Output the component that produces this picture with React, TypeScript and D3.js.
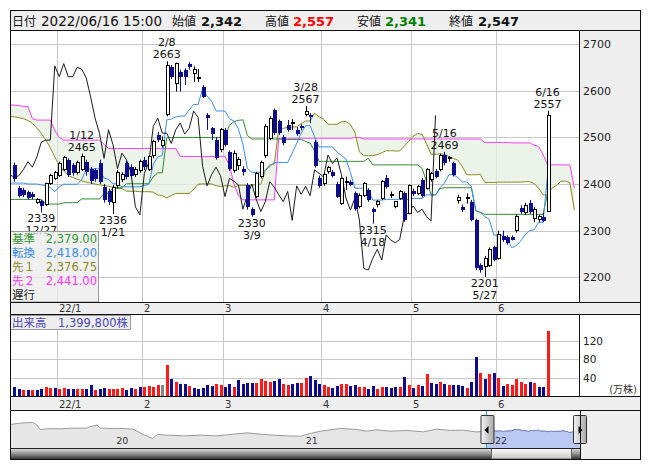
import React from "react";
import * as d3 from "d3";

// ---- calendar: trading days shown on the daily chart ----
const tradingMonths: [number, number, number[]][] = [
  [2021, 12, [17, 20, 21, 22, 23, 24, 27, 28, 29, 30]],
  [2022, 1, [4, 5, 6, 7, 11, 12, 13, 14, 17, 18, 19, 20, 21, 24, 25, 26, 27, 28, 31]],
  [2022, 2, [1, 2, 3, 4, 7, 8, 9, 10, 14, 15, 16, 17, 18, 21, 22, 24, 25, 28]],
  [2022, 3, [1, 2, 3, 4, 7, 8, 9, 10, 11, 14, 15, 16, 17, 18, 22, 23, 24, 25, 28, 29, 30, 31]],
  [2022, 4, [1, 4, 5, 6, 7, 8, 11, 12, 13, 14, 15, 18, 19, 20, 21, 22, 25, 26, 27, 28]],
  [2022, 5, [2, 6, 9, 10, 11, 12, 13, 16, 17, 18, 19, 20, 23, 24, 25, 26, 27, 30, 31]],
  [2022, 6, [1, 2, 3, 6, 7, 8, 9, 10, 13, 14, 15, 16]],
];

// ---- daily OHLC ----
const opens = [
  2440, 2392, 2387, 2382, 2378, 2361, 2363, 2355, 2401, 2412,
  2418, 2431, 2451, 2440, 2424, 2432, 2448, 2432, 2430, 2446, 2394, 2384, 2360, 2396, 2410, 2444, 2437, 2420, 2428,
  2452, 2432, 2460, 2505, 2482, 2548, 2650, 2616, 2641, 2644, 2657, 2637, 2625, 2607, 2548, 2519, 2494, 2473,
  2516, 2468, 2428, 2440, 2433, 2398, 2346, 2374, 2416, 2460, 2498, 2559, 2534, 2501, 2526, 2530, 2516, 2524, 2548, 2548, 2491, 2412,
  2400, 2426, 2425, 2401, 2359, 2405, 2405, 2380, 2351, 2376, 2387, 2346, 2355, 2369, 2412, 2376, 2351, 2369, 2380, 2337,
  2386, 2380, 2409, 2391, 2409, 2428, 2430, 2462, 2455, 2444, 2364, 2351, 2368, 2362, 2323, 2226, 2223, 2226, 2264,
  2241, 2289, 2286, 2286, 2301, 2348, 2339, 2360, 2326, 2323, 2330, 2342,
];
const highs = [
  2446, 2396, 2392, 2386, 2383, 2370, 2366, 2403, 2422, 2428,
  2448, 2460, 2455, 2445, 2450, 2465, 2452, 2436, 2434, 2452, 2400, 2390, 2398, 2430, 2425, 2450, 2442, 2436, 2452,
  2458, 2462, 2495, 2512, 2502, 2663, 2655, 2660, 2645, 2648, 2661, 2652, 2646, 2612, 2552, 2522, 2500, 2520,
  2520, 2472, 2472, 2458, 2438, 2402, 2350, 2426, 2450, 2528, 2545, 2562, 2538, 2505, 2537, 2539, 2522, 2528, 2567, 2552, 2495, 2418,
  2424, 2439, 2430, 2405, 2414, 2416, 2409, 2384, 2380, 2404, 2391, 2350, 2366, 2408, 2419, 2384, 2364, 2387, 2384, 2399,
  2390, 2398, 2413, 2434, 2426, 2432, 2465, 2469, 2460, 2448, 2377, 2356, 2380, 2366, 2326, 2230, 2246, 2264, 2268,
  2300, 2300, 2290, 2290, 2335, 2354, 2360, 2366, 2350, 2334, 2338, 2557,
];
const lows = [
  2405, 2371, 2372, 2366, 2367, 2358, 2339, 2353, 2398, 2409,
  2415, 2428, 2415, 2418, 2420, 2428, 2418, 2400, 2405, 2400, 2360, 2355, 2336, 2390, 2404, 2410, 2412, 2415, 2424,
  2430, 2428, 2455, 2490, 2478, 2545, 2625, 2598, 2598, 2612, 2645, 2619, 2619, 2584, 2516, 2494, 2452, 2468,
  2480, 2428, 2424, 2430, 2418, 2345, 2330, 2370, 2412, 2456, 2494, 2505, 2505, 2483, 2512, 2516, 2503, 2515, 2545, 2530, 2435, 2392,
  2396, 2422, 2414, 2370, 2355, 2387, 2395, 2343, 2348, 2372, 2362, 2315, 2350, 2366, 2390, 2370, 2348, 2366, 2319, 2335,
  2374, 2376, 2371, 2388, 2405, 2412, 2427, 2440, 2448, 2416, 2358, 2340, 2358, 2320, 2216, 2210, 2201, 2222, 2234,
  2238, 2276, 2270, 2279, 2296, 2336, 2334, 2336, 2318, 2318, 2318, 2341,
];
const closes = [
  2410, 2375, 2376, 2370, 2372, 2367, 2352, 2400, 2419, 2424,
  2444, 2456, 2420, 2424, 2445, 2458, 2426, 2406, 2410, 2404, 2365, 2362, 2392, 2425, 2420, 2414, 2418, 2431, 2448,
  2436, 2458, 2490, 2494, 2494, 2653, 2630, 2658, 2630, 2630, 2650, 2646, 2628, 2587, 2541, 2508, 2455, 2516,
  2484, 2433, 2466, 2452, 2425, 2351, 2334, 2423, 2446, 2524, 2541, 2509, 2509, 2487, 2516, 2531, 2507, 2519, 2556, 2543, 2438, 2396,
  2420, 2436, 2418, 2373, 2412, 2406, 2398, 2346, 2376, 2400, 2366, 2341, 2362, 2405, 2393, 2377, 2362, 2384, 2322, 2396,
  2378, 2395, 2375, 2430, 2423, 2415, 2462, 2444, 2456, 2420, 2370, 2344, 2370, 2323, 2219, 2216, 2241, 2260, 2237,
  2291, 2280, 2274, 2281, 2330, 2339, 2353, 2339, 2346, 2330, 2321, 2547,
];

// ---- daily volume (shares) and bar side: u = up, d = down, n = unchanged ----
const volumes = [
  206000, 170000, 150000, 130000, 150000, 150000, 170000, 200000, 177000, 180000,
  170000, 180000, 160000, 160000, 156000, 160000, 160000, 248000, 150000, 160000, 180000, 160000, 160000, 160000, 180000, 150000, 180000, 170000, 205000,
  205000, 230000, 205000, 248000, 248000, 679000, 375000, 318000, 276000, 276000, 234000, 184000, 170000, 184000, 255000, 234000, 276000, 255000,
  205000, 276000, 198000, 360000, 276000, 297000, 297000, 283000, 382000, 326000, 318000, 333000, 375000, 276000, 255000, 276000, 297000, 297000, 403000, 446000, 361000, 276000,
  248000, 198000, 191000, 234000, 276000, 276000, 234000, 248000, 205000, 205000, 170000, 234000, 170000, 205000, 205000, 191000, 205000, 205000, 417000, 248000,
  191000, 248000, 234000, 488000, 297000, 276000, 318000, 276000, 255000, 248000, 248000, 234000, 191000, 318000, 849000, 509000, 382000, 488000, 509000,
  403000, 234000, 276000, 255000, 382000, 318000, 276000, 318000, 297000, 212000, 212000, 1399800,
];
const volumeSide =
  "ddududduud" + "uudduuddud" + "duuuuddudu" + "uuunududdu" + "ddddduuddu" + "dddduuuudd" +
  "uudduudddu" + "udduudduud" + "duudddudud" + "ududdududd" + "duddududud" + "uuuuududdu";

// ---- Ichimoku values before enough history exists inside this window ----
const tenkanLead = [2402, 2402, 2402, 2400, 2400, 2400, 2398, 2396];
const kijunLead = [
  2367, 2367, 2367, 2367, 2367, 2367, 2367, 2357, 2357, 2357, 2357, 2360, 2360,
  2360, 2360, 2368, 2368, 2368, 2368, 2368, 2380, 2380, 2392, 2392, 2392,
];
const spanALead = [
  2544, 2542, 2540, 2536, 2530, 2520, 2508, 2494, 2478, 2458, 2440, 2428, 2418,
  2414, 2410, 2407, 2404, 2402, 2400, 2398, 2397, 2395, 2393, 2391, 2390,
];
const spanBLead = [
  2569, 2568, 2566, 2566, 2540, 2537, 2537, 2537, 2537, 2515, 2500, 2494, 2494, 2494, 2494, 2494, 2494, 2494, 2494, 2494,
  2485, 2476, 2476, 2476, 2476, 2476, 2476, 2476, 2476, 2476, 2476, 2476, 2476, 2476, 2476, 2476, 2476,
  2459, 2459, 2459, 2459, 2459, 2459, 2459, 2459, 2459, 2459, 2459, 2440, 2400, 2375,
  2366, 2366, 2366, 2366, 2366, 2366, 2366, 2366,
  2498, 2498, 2498, 2498, 2498, 2498, 2498, 2498, 2498, 2498, 2498, 2498, 2498, 2498, 2498, 2498, 2498,
];
// leading spans projected past the last session
const spanAAhead = [2391, 2397, 2406, 2406, 2403, 2344];
const spanBAhead = [2441, 2441, 2441, 2441, 2441, 2391];

const priceTicks = [2200, 2300, 2400, 2500, 2600, 2700];
const volumeTicks = [40, 80, 120];

const markedHighs = ["2022-01-12", "2022-02-08", "2022-03-28", "2022-05-16", "2022-06-16"];
const markedLows = ["2021-12-27", "2022-01-21", "2022-03-09", "2022-04-18", "2022-05-27"];

// ---- long-range history for the navigator ----
const navDates = [
  "2019-06-14", "2019-07-01", "2019-07-20", "2019-07-26", "2019-08-03", "2019-08-09", "2019-08-28",
  "2019-09-16", "2019-09-30", "2019-10-15", "2019-11-07", "2019-11-13", "2019-11-27", "2019-12-03",
  "2019-12-18", "2020-01-01", "2020-01-20", "2020-02-04", "2020-02-12", "2020-02-24", "2020-03-13",
  "2020-03-23", "2020-04-11", "2020-05-12", "2020-06-14", "2020-07-16", "2020-08-16", "2020-09-12",
  "2020-10-07", "2020-11-01", "2020-11-28", "2020-12-24", "2021-01-12", "2021-02-01", "2021-03-11",
  "2021-04-11", "2021-04-30", "2021-05-19", "2021-06-16", "2021-07-16", "2021-08-18", "2021-09-12",
  "2021-10-09", "2021-11-03", "2021-11-28", "2021-12-08",
];
const navValues = [
  3384, 3571, 3643, 3672, 3283, 2662, 2778,
  2750, 2807, 2850, 2850, 3038, 3283, 2879,
  2807, 2807, 2778, 2706, 2417, 1941, 1364,
  1941, 1840, 1739, 1840, 1739, 1984, 2172,
  1984, 1840, 1739, 1696, 2085, 2417, 2807,
  2662, 2417, 2605, 2417, 2518, 2316, 2706,
  2518, 2561, 2300, 2380,
];
const navYears = [2020, 2021, 2022];

const FONT = "'DejaVu Sans', 'Noto Sans CJK JP', sans-serif";
const NAVY = "#0c0c8c";
const RED = "#ff1a1a";
const C_KIJUN = "#2e8b2e";
const C_TENKAN = "#3a8ee6";
const C_SPANA = "#8a8a1e";
const C_SPANB = "#ff3cff";
const GRID = "#c8c8c8";

export default function App() {
  const days = tradingMonths.flatMap(([yy, mm, ds]) =>
    ds.map((d) => ({ y: yy, m: mm, d, date: new Date(yy, mm - 1, d) }))
  );
  const N = days.length;
  const iso = d3.timeFormat("%Y-%m-%d");
  const idxOf = (s: string) => days.findIndex((dd) => iso(dd.date) === s);

  // layout
  const PL = 11, PR = 579, PT = 31, PB = 302;
  const VT = 314.5, VB = 396.5;
  const NT = 410.5, NB = 448;

  const x = d3.scaleLinear().domain([0, N - 1]).range([14.46, 547.5]);
  const step = x(1) - x(0);
  const y = d3.scaleLinear().domain([2200, 2700]).range([277.33, 44]);
  const vy = d3.scaleLinear().domain([0, 120]).range([VB, 340.5]);

  // Ichimoku
  const mid = (i: number, n: number) => {
    let hi = -Infinity, lo = Infinity;
    for (let k = i - n + 1; k <= i; k++) {
      hi = Math.max(hi, highs[k]);
      lo = Math.min(lo, lows[k]);
    }
    return (hi + lo) / 2;
  };
  const SHIFT = 25;
  const tenkan = d3.range(N).map((i) => (i < 8 ? tenkanLead[i] : mid(i, 9)));
  const kijun = d3.range(N).map((i) => (i < 25 ? kijunLead[i] : mid(i, 26)));
  const M = N + spanAAhead.length;
  const spanA = d3.range(M).map((j) =>
    j < 25 ? spanALead[j] : j < N ? (tenkan[j - SHIFT] + kijun[j - SHIFT]) / 2 : spanAAhead[j - N]
  );
  const spanB = d3.range(M).map((j) =>
    j < 76 ? spanBLead[j] : j < N ? mid(j - SHIFT, 52) : spanBAhead[j - N]
  );
  const chikou = d3.range(-1, N - SHIFT).map((i) => [x(i), y(closes[i + SHIFT])] as [number, number]);

  const pts = (arr: number[]) =>
    [[PL, y(arr[0])] as [number, number]].concat(arr.map((v, i) => [x(i), y(v)] as [number, number]));
  const line = d3.line<[number, number]>().x((d) => d[0]).y((d) => d[1]);
  const cloud = d3
    .area<number>()
    .x((i) => (i < 0 ? PL : x(i)))
    .y0((i) => y(spanA[Math.max(i, 0)]))
    .y1((i) => y(spanB[Math.max(i, 0)]));

  // month boundaries
  const monthStarts = days
    .map((dd, i) => ({ ...dd, i }))
    .filter((dd, i) => i > 0 && dd.m !== days[i - 1].m);
  const monthX = (i: number) => Math.round(x(i) - step / 2) + 0.5;
  const monthLabel = (dd: { y: number; m: number }) => (dd.m === 1 ? `${dd.y % 100}/1` : `${dd.m}`);

  const fmt = d3.format(",");
  const fmt2 = d3.format(",.2f");
  const last = N - 1;

  // navigator
  const parse = d3.timeParse("%Y-%m-%d");
  const navSeries = navDates
    .map((s, k) => ({ date: parse(s) as Date, v: navValues[k] }))
    .concat(days.map((dd, i) => ({ date: dd.date, v: closes[i] })));
  const navX = d3.scaleTime().domain([parse("2019-06-14") as Date, days[last].date]).range([PL, 580]);
  const navY = d3.scaleLinear().domain([0, 5450]).range([NB, 410]);
  const navArea = d3
    .area<{ date: Date; v: number }>()
    .x((d) => navX(d.date))
    .y0(NB)
    .y1((d) => navY(d.v));
  const navLine = d3
    .line<{ date: Date; v: number }>()
    .x((d) => navX(d.date))
    .y((d) => navY(d.v));
  const selL = Math.round(navX(days[0].date)) + 0.5;
  const selR = Math.round(navX(days[last].date)) + 0.5;

  const legendRows = [
    { k: "基準", v: fmt2(kijun[last]), c: "#339933" },
    { k: "転換", v: fmt2(tenkan[last]), c: C_TENKAN },
    { k: "先１", v: fmt2(spanA[last]), c: C_SPANA },
    { k: "先２", v: fmt2(spanB[last]), c: "#ff33ff" },
    { k: "遅行", v: "", c: "#222" },
  ];

  const dateLabel = (i: number) => `${days[i].m}/${days[i].d}`;

  return (
    <svg
      width={653}
      height={470}
      style={{ position: "fixed", left: 0, top: 0, display: "block", background: "#fff" }}
      fontFamily={FONT}
    >
      <defs>
        <clipPath id="plotClip">
          <rect x={PL} y={PT} width={PR - PL} height={PB - PT} />
        </clipPath>
        <clipPath id="volClip">
          <rect x={PL} y={VT} width={PR - PL} height={VB - VT} />
        </clipPath>
        <clipPath id="navSel">
          <rect x={selL} y={NT} width={selR - selL} height={NB - NT} />
        </clipPath>
        <linearGradient id="track" x1="0" y1="0" x2="0" y2="1">
          <stop offset="0" stopColor="#e2e2e2" />
          <stop offset="0.45" stopColor="#9c9c9c" />
          <stop offset="1" stopColor="#2c2c2c" />
        </linearGradient>
        <linearGradient id="thumb" x1="0" y1="0" x2="0" y2="1">
          <stop offset="0" stopColor="#ffffff" />
          <stop offset="1" stopColor="#c4c4c4" />
        </linearGradient>
        <linearGradient id="handle" x1="0" y1="0" x2="1" y2="0">
          <stop offset="0" stopColor="#f4f4f4" />
          <stop offset="1" stopColor="#a8a8a8" />
        </linearGradient>
      </defs>

      {/* header */}
      <rect x={10.5} y={10.5} width={630} height={20} fill="#eeeeee" stroke="#333" />
      <text y={25.5} fontSize={13.5} fill="#111">
        <tspan x={12} fontSize={12}>日付</tspan>
        <tspan x={41}>{d3.timeFormat("%Y/%m/%d")(days[last].date)} 15:00</tspan>
        <tspan x={172} fontSize={12}>始値</tspan>
        <tspan x={201} fontWeight="bold" fontSize={13}>{fmt(opens[last])}</tspan>
        <tspan x={265} fontSize={12}>高値</tspan>
        <tspan x={293} fontWeight="bold" fontSize={13} fill="#ff0000">{fmt(highs[last])}</tspan>
        <tspan x={357} fontSize={12}>安値</tspan>
        <tspan x={385} fontWeight="bold" fontSize={13} fill="#008000">{fmt(lows[last])}</tspan>
        <tspan x={449} fontSize={12}>終値</tspan>
        <tspan x={478} fontWeight="bold" fontSize={13}>{fmt(closes[last])}</tspan>
      </text>

      {/* price panel */}
      <rect x={PL} y={PT} width={PR - PL} height={PB - PT} fill="#fff" />
      <rect x={PR} y={30.5} width={640.5 - PR} height={PB - 30.5} fill="#eeeeee" />
      {priceTicks.map((t) => (
        <line key={t} x1={PL} x2={PR} y1={Math.round(y(t)) + 0.5} y2={Math.round(y(t)) + 0.5} stroke={GRID} />
      ))}
      {monthStarts.map((dd) => (
        <line key={dd.i} x1={monthX(dd.i)} x2={monthX(dd.i)} y1={PT} y2={PB} stroke={GRID} />
      ))}
      <g clipPath="url(#plotClip)">
        <path d={cloud(d3.range(-1, M)) || ""} fill="#e6f0e3" fillOpacity={0.75} />
        <path d={line(pts(spanB)) || ""} fill="none" stroke={C_SPANB} strokeWidth={1} />
        <path d={line(pts(spanA)) || ""} fill="none" stroke={C_SPANA} strokeWidth={1} />
        <path d={line(pts(kijun)) || ""} fill="none" stroke={C_KIJUN} strokeWidth={1} />
        <path d={line(pts(tenkan)) || ""} fill="none" stroke={C_TENKAN} strokeWidth={1} />
        <path d={line(chikou) || ""} fill="none" stroke="#1a1a1a" strokeWidth={1} />
        {days.map((_, i) => {
          const cx = Math.round(x(i)) + 0.5;
          const o = opens[i], c = closes[i];
          const up = c >= o;
          const top = y(Math.max(o, c));
          const h = Math.max(y(Math.min(o, c)) - top, 1);
          return (
            <g key={i}>
              <line x1={cx} x2={cx} y1={y(highs[i])} y2={y(lows[i])} stroke={up ? "#000" : NAVY} />
              {up ? (
                <rect x={cx - 1.5} y={top} width={3} height={h} fill="#fff" stroke="#000" shapeRendering="crispEdges" />
              ) : (
                <rect x={cx - 2} y={top} width={4} height={h} fill={NAVY} shapeRendering="crispEdges" />
              )}
            </g>
          );
        })}
        {markedHighs.map((s) => {
          const i = idxOf(s);
          const cx = x(i);
          return (
            <g key={s} fontSize={11} fill="#111" textAnchor="middle">
              <text x={cx} y={y(highs[i]) - 15}>{dateLabel(i)}</text>
              <text x={cx} y={y(highs[i]) - 3}>{highs[i]}</text>
            </g>
          );
        })}
        {markedLows.map((s) => {
          const i = idxOf(s);
          const cx = x(i);
          return (
            <g key={s} fontSize={11} fill="#111" textAnchor="middle">
              <text x={cx} y={y(lows[i]) + 10}>{lows[i]}</text>
              <text x={cx} y={y(lows[i]) + 22}>{dateLabel(i)}</text>
            </g>
          );
        })}
      </g>
      {priceTicks.map((t) => (
        <text key={t} x={583} y={y(t) + 4} fontSize={11} fill="#222">{t}</text>
      ))}

      {/* Ichimoku legend */}
      <rect x={10.5} y={231.5} width={88} height={70.5} fill="#ececec" fillOpacity={0.8} stroke="#999" />
      {legendRows.map((r, k) => (
        <g key={r.k} fill={r.c} fontSize={11.5}>
          <text x={12} y={242.5 + k * 14.2}>{r.k}</text>
          {r.v && (
            <text x={97} y={242.5 + k * 14.2} textAnchor="end">{r.v}</text>
          )}
        </g>
      ))}

      {/* date strip under price panel */}
      <rect x={10.5} y={302.5} width={630} height={12} fill="#eeeeee" />
      {monthStarts.map((dd) => (
        <text key={dd.i} x={monthX(dd.i) + 1.5} y={311.5} fontSize={10} fill="#333">{monthLabel(dd)}</text>
      ))}

      {/* volume panel */}
      <rect x={PL} y={VT} width={PR - PL} height={VB - VT} fill="#fff" />
      {volumeTicks.map((t) => (
        <line key={t} x1={PL} x2={PR} y1={Math.round(vy(t)) + 0.5} y2={Math.round(vy(t)) + 0.5} stroke={GRID} />
      ))}
      {monthStarts.map((dd) => (
        <line key={dd.i} x1={monthX(dd.i)} x2={monthX(dd.i)} y1={VT} y2={VB} stroke={GRID} />
      ))}
      <g clipPath="url(#volClip)">
        {volumes.map((v, i) => {
          const top = vy(v / 10000);
          const side = volumeSide[i];
          return (
            <rect
              key={i}
              x={Math.round(x(i)) - 1}
              y={top}
              width={3}
              height={VB - top}
              fill={side === "u" ? RED : side === "d" ? NAVY : "#888"}
              shapeRendering="crispEdges"
            />
          );
        })}
      </g>
      <rect x={10.5} y={315.5} width={120} height={14} fill="#eeeeee" stroke="#999" />
      <text y={327} fontSize={11.5} fill="#4848b8">
        <tspan x={12}>出来高</tspan>
        <tspan x={58}>{fmt(volumes[last])}株</tspan>
      </text>
      {volumeTicks.map((t) => (
        <text key={t} x={583} y={vy(t) + 4} fontSize={10.5} fill="#222">{t}</text>
      ))}
      <text x={637} y={393} fontSize={10} fill="#333" textAnchor="end">(万株)</text>

      {/* date strip under volume panel */}
      <rect x={10.5} y={396.5} width={630} height={14} fill="#eeeeee" />
      {monthStarts.map((dd) => (
        <text key={dd.i} x={monthX(dd.i) + 1.5} y={407.5} fontSize={10} fill="#333">{monthLabel(dd)}</text>
      ))}

      {/* navigator */}
      <rect x={PL} y={NT} width={580 - PL} height={NB - NT} fill="#fff" />
      <rect x={580} y={NT} width={60.5} height={459.5 - NT} fill="#eeeeee" />
      <path d={navArea(navSeries) || ""} fill="#e6e6e6" />
      <path d={navLine(navSeries) || ""} fill="none" stroke="#9a9a9a" />
      <g clipPath="url(#navSel)">
        <path d={navArea(navSeries) || ""} fill="#bac8f4" />
        <path d={navLine(navSeries) || ""} fill="none" stroke="#6f78c0" />
      </g>
      {navYears.map((yr) => (
        <text key={yr} x={navX(new Date(yr, 0, 1)) + 1} y={444} fontSize={9.5} fill="#333">{yr % 100}</text>
      ))}
      <line x1={selL} x2={selL} y1={NT} y2={NB} stroke="#2aa0e6" />
      <line x1={selR} x2={selR} y1={NT} y2={NB} stroke="#2aa0e6" />
      {/* scrollbar */}
      <rect x={PL} y={NB} width={580 - PL} height={11.5} fill="url(#track)" />
      <rect x={491.5} y={NB + 0.5} width={80} height={10.5} fill="url(#thumb)" stroke="#666" />
      <line x1={PL} x2={580} y1={NB + 0.5} y2={NB + 0.5} stroke="#222" />
      {/* handles */}
      <rect x={selL - 5.5} y={415.5} width={13} height={28} fill="url(#handle)" stroke="#333" rx={1} />
      <path d={`M${selL - 2},430 L${selL + 2},426 L${selL + 2},434 Z`} fill="#000" />
      <rect x={selR - 7} y={415.5} width={13} height={28} fill="url(#handle)" stroke="#333" rx={1} />
      <path d={`M${selR + 2},430 L${selR - 2},426 L${selR - 2},434 Z`} fill="#000" />

      {/* frame */}
      <g fill="none" stroke="#111">
        <rect x={10.5} y={10.5} width={630} height={449} />
        <line x1={10.5} x2={640.5} y1={30.5} y2={30.5} />
        <line x1={10.5} x2={640.5} y1={302.5} y2={302.5} />
        <line x1={10.5} x2={640.5} y1={314.5} y2={314.5} />
        <line x1={10.5} x2={640.5} y1={396.5} y2={396.5} />
        <line x1={10.5} x2={640.5} y1={410.5} y2={410.5} />
        <line x1={PR + 0.5} x2={PR + 0.5} y1={30.5} y2={302.5} />
        <line x1={PR + 0.5} x2={PR + 0.5} y1={314.5} y2={396.5} />
        <line x1={580.5} x2={580.5} y1={410.5} y2={459.5} />
      </g>
    </svg>
  );
}
